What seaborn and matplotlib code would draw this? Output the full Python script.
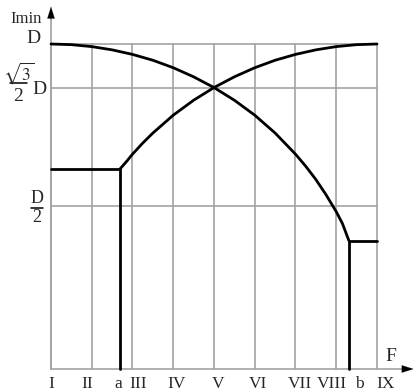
import numpy as np
import pandas as pd
import matplotlib
matplotlib.use("Agg")
import matplotlib.pyplot as plt
import seaborn as sns

# ---- data (current in units of D, excitation positions in grid steps) ----
grid_labels = ["I", "II", "III", "IV", "V", "VI", "VII", "VIII", "IX"]
grid_x = [0, 1, 2, 3, 4, 5, 6, 7, 8]
a_pos = 1.69
b_pos = 7.31
level_lines = [1.0, 0.866, 0.5]

falling_x = [0, 0.5, 1, 1.5, 2, 2.5, 3, 3.5, 4, 4.5, 5, 5.5, 6, 6.25,
             6.5, 6.75, 7, 7.15, 7.31]
falling_y = [1.000, 0.998, 0.992, 0.982, 0.968, 0.950, 0.927, 0.899,
             0.866, 0.827, 0.781, 0.726, 0.661, 0.624, 0.583, 0.536,
             0.484, 0.448, 0.395]

rising_x = [1.69, 1.85, 2, 2.25, 2.5, 3, 3.5, 4, 4.5, 5, 5.5, 6, 6.5,
            7, 7.5, 8]
rising_y = [0.615, 0.638, 0.661, 0.695, 0.726, 0.781, 0.827, 0.866,
            0.899, 0.927, 0.950, 0.968, 0.982, 0.992, 0.998, 1.000]

left_step_x = [0, 1.69, 1.69]
left_step_y = [0.615, 0.615, 0.0]
right_step_x = [7.31, 7.31, 8]
right_step_y = [0.0, 0.395, 0.395]

sns.set_theme(style="white")
plt.rcParams["font.family"] = ["Liberation Serif", "DejaVu Serif"]
plt.rcParams["mathtext.fontset"] = "stix"

fig = plt.figure(figsize=(4.14, 3.92), dpi=100)
ax = fig.add_axes([0, 0, 1, 1])
ax.set_xlim(-1.2515, 8.908)
ax.set_ylim(-0.0708, 1.1354)

grid_col = "#a3a3a3"
for gx in grid_x:
    ax.plot([gx, gx], [0, 1.0], color=grid_col, lw=1.2, zorder=1)
for ly in level_lines:
    ax.plot([0, 8], [ly, ly], color=grid_col, lw=1.2, zorder=1)

# axes with arrow heads
ax.plot([0, 0], [0, 1.09], color=grid_col, lw=1.2, zorder=2)
ax.plot([0, 8.75], [0, 0], color=grid_col, lw=1.2, zorder=2)
ax.annotate("", xy=(0, 1.115), xytext=(0, 1.07),
            arrowprops=dict(arrowstyle="-|>,head_length=0.7,head_width=0.22",
                            color="black", lw=0.1, shrinkA=0, shrinkB=0), zorder=3)
ax.annotate("", xy=(8.9, 0), xytext=(8.7, 0),
            arrowprops=dict(arrowstyle="-|>,head_length=0.7,head_width=0.22",
                            color="black", lw=0.1, shrinkA=0, shrinkB=0), zorder=3)

curves = [
    (falling_x, falling_y),
    (rising_x, rising_y),
    (left_step_x, left_step_y),
    (right_step_x, right_step_y),
]
for cx, cy in curves:
    df = pd.DataFrame({"F": cx, "I": cy})
    sns.lineplot(data=df, x="F", y="I", sort=False, color="black",
                 lw=2.0, ax=ax, zorder=4, estimator=None)
ax.set_xlabel("")
ax.set_ylabel("")
ax.axis("off")

# tick labels under the F axis
tick_pos = grid_x[:2] + [a_pos] + grid_x[2:8] + [b_pos] + [grid_x[8]]
tick_txt = grid_labels[:2] + ["a"] + grid_labels[2:8] + ["b"] + [grid_labels[8]]
nudge = {"II": -0.1, "a": -0.05, "III": 0.14, "IV": 0.07, "V": 0.1,
         "VI": 0.08, "VII": 0.1, "VIII": -0.1, "b": 0.25, "IX": 0.2}
for tp, tt in zip(tick_pos, tick_txt):
    ax.text(tp + nudge.get(tt, 0), -0.045, tt, ha="center", va="center",
            fontsize=12.5)

# level labels on the current axis
ax.text(-0.44, 1.016, "D", ha="center", va="center", fontsize=14)

# sqrt(3)/2 D, built as a stacked fraction
ax.text(-0.79, 0.912, r"$\sqrt{3}$", ha="center", va="center", fontsize=12.5)
ax.plot([-1.00, -0.60], [0.879, 0.879], color="black", lw=1.1)
ax.text(-0.80, 0.838, "2", ha="center", va="center", fontsize=14)
ax.text(-0.29, 0.860, "D", ha="center", va="center", fontsize=14)

# D/2
ax.text(-0.34, 0.526, "D", ha="center", va="center", fontsize=13)
ax.plot([-0.50, -0.19], [0.496, 0.496], color="black", lw=1.1)
ax.text(-0.34, 0.465, "2", ha="center", va="center", fontsize=13)

ax.text(-0.6, 1.078, "Imin", ha="center", va="center", fontsize=12)
ax.text(8.35, 0.037, "F", ha="center", va="center", fontsize=14)

fig.savefig("out.png", dpi=100)
